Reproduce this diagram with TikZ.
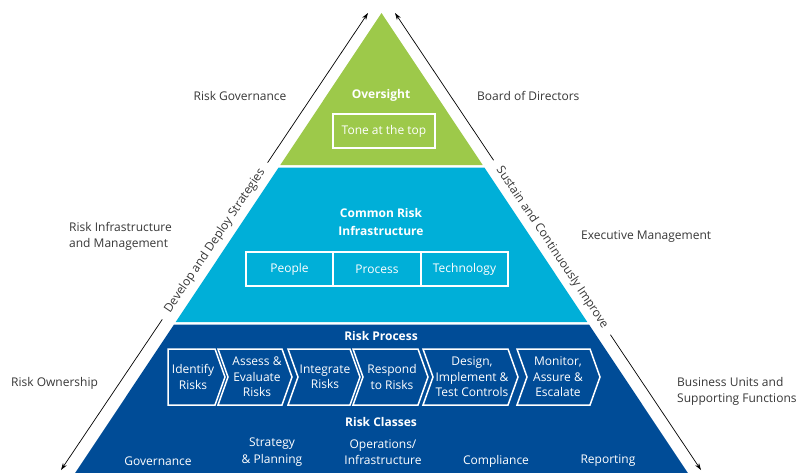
\documentclass[tikz,border=0pt]{standalone}
\usepackage{fontspec}
\setmainfont{Open Sans}
\usetikzlibrary{arrows.meta,positioning,calc}

\definecolor{topgreen}{RGB}{157,201,74}
\definecolor{midcyan}{RGB}{0,175,216}
\definecolor{basenavy}{RGB}{0,76,151}
\definecolor{labelgrey}{RGB}{55,55,55}

\begin{document}
\begin{tikzpicture}[
      x=1pt,y=-1pt,
      side/.style = {text=labelgrey,font=\fontsize{12}{16.5}\selectfont,align=left,inner sep=0},
      along/.style = {text=labelgrey,font=\fontsize{12}{14}\selectfont,inner xsep=9pt,inner ysep=0},
      heading/.style = {text=white,font=\fontsize{12}{17.5}\selectfont\bfseries,align=center,inner sep=0},
      inbox/.style = {draw=white,line width=1.5pt,text=white,font=\fontsize{12}{14}\selectfont,minimum height=34pt,inner sep=0,outer sep=0},
      chevron/.style = {draw=white,line width=1.5pt,line join=miter},
      stagetext/.style = {text=white,font=\fontsize{12}{15.5}\selectfont,align=center,inner sep=0},
      classtext/.style = {text=white,font=\fontsize{12}{16.5}\selectfont,align=center,inner sep=0},
      flow/.style = {-{Stealth[length=7pt,width=4.5pt]},line width=0.7pt,black}
      ]
      \useasboundingbox (0,0) rectangle (798,472);

      % pyramid bands
      \fill[topgreen] (381.5,13) -- (482.7,165) -- (280.3,165) -- cycle;
      \fill[midcyan] (278.6,167.5) -- (484.4,167.5) -- (587.3,322) -- (175.7,322) -- cycle;
      \fill[basenavy] (174,324.5) -- (589,324.5) -- (692.5,480) -- (70.5,480) -- cycle;

      % oversight
      \node[heading] (oversight) at (381,95) {Oversight};
      \node[inbox,minimum width=102pt] (tone) at (384,131) {Tone at the top};

      % common risk infrastructure
      \node[heading] (infra) at (381,222) {Common Risk\\Infrastructure};
      \node[inbox,minimum width=88pt] (process) at (377,269) {Process};
      \node[inbox,minimum width=87pt,left=0pt of process] (people) {People};
      \node[inbox,minimum width=87pt,right=0pt of process] (tech) {Technology};

      % risk process
      \node[heading] (riskprocess) at (381,336) {Risk Process};
      \foreach \l/\r/\n/\cx/\txt [count=\i] in {
            168/215/0/193/{Identify\\Risks},
            218/282/10/257/{Assess \&\\Evaluate\\Risks},
            288/350/10/325/{Integrate\\Risks},
            353/418/10/392/{Respond\\to Risks},
            423/508/10/472/{Design,\\Implement \&\\Test Controls},
            517/590/10/558/{Monitor,\\Assure \&\\Escalate}}
      {
        \draw[chevron] (\l,349) -- (\r,349) -- ++(10,28) -- (\r,405) -- (\l,405) -- ++(\n,-28) -- cycle;
        \node[stagetext] (stage\i) at (\cx,377) {\txt};
      }

      % risk classes
      \node[heading] (riskclasses) at (381,422) {Risk Classes};
      \foreach \cx/\cy/\txt [count=\i] in {
            158/461/Governance,
            272/452/{Strategy\\\& Planning},
            383/452/{Operations/\\Infrastructure},
            496/461/Compliance,
            608/461/Reporting}
        \node[classtext] (class\i) at (\cx,\cy) {\txt};

      % side labels
      \node[side] (riskgov) at (240,96) {Risk Governance};
      \node[side,anchor=west] (board) at (477,96) {Board of Directors};
      \node[side,anchor=west] (riskinfra) at (69,236.5) {Risk Infrastructure\\and Management};
      \node[side,anchor=west] (exec) at (581,237) {Executive Management};
      \node[side,anchor=west] (owner) at (11,383) {Risk Ownership};
      \node[side,anchor=west] (business) at (677,391.5) {Business Units and\\Supporting Functions};

      % arrows along the sides
      \coordinate (devtop) at (368,13);
      \coordinate (devbot) at (61,470);
      \coordinate (sustop) at (395,13);
      \coordinate (susbot) at (701,470);
      \node[along,rotate=56.1] (develop) at (215,241) {Develop and Deploy Strategies};
      \node[along,rotate=-56.2] (sustain) at (552,247.5) {Sustain and Continuously Improve};
      \draw[flow] (develop) -- (devtop);
      \draw[flow] (develop) -- (devbot);
      \draw[flow] (sustain) -- (sustop);
      \draw[flow] (sustain) -- (susbot);
    \end{tikzpicture}
\end{document}
